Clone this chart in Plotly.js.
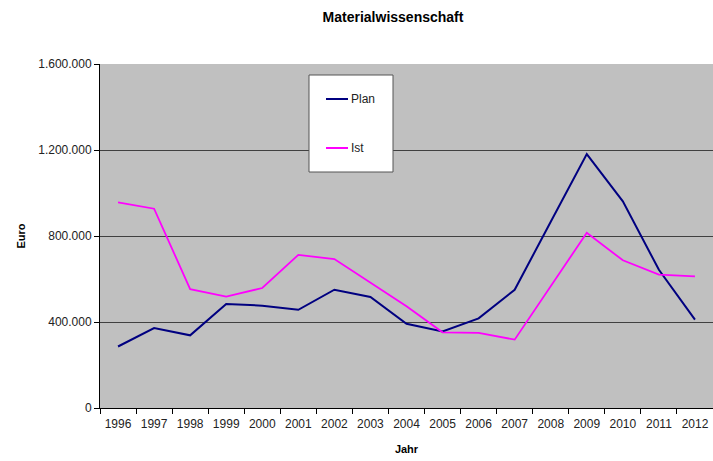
<!DOCTYPE html>
<html>
<head>
<meta charset="utf-8">
<script src="https://cdn.plot.ly/plotly-3.0.1.min.js"></script>
<style>html,body{margin:0;padding:0;background:#fff;}#chart{width:713px;height:461px;}</style>
</head>
<body>
<div id="chart"></div>
<script>
const years = ['1996','1997','1998','1999','2000','2001','2002','2003','2004','2005','2006','2007','2008','2009','2010','2011','2012'];
const planValues = [286000, 372000, 338000, 484000, 476000, 457000, 550000, 516000, 392000, 356000, 417000, 550000, 866000, 1181000, 961000, 643000, 411000];
const istValues = [956000, 927000, 553000, 518000, 558000, 712000, 693000, 581000, 473000, 352000, 349000, 318000, 567000, 815000, 687000, 620000, 612000];
const seriesNames = ['Plan', 'Ist'];
const seriesColors = ['#000080', '#ff00ff'];
const yTicks = [0, 400000, 800000, 1200000, 1600000];

const traces = [
  {x: years, y: planValues, name: seriesNames[0], type: 'scatter', mode: 'lines',
   line: {color: seriesColors[0], width: 2}, showlegend: false},
  {x: years, y: istValues, name: seriesNames[1], type: 'scatter', mode: 'lines',
   line: {color: seriesColors[1], width: 1.8}, showlegend: false}
];

const lx = v => (v - 100) / 613;
const ly = v => (408 - v) / 344;

const layout = {
  width: 713, height: 461,
  margin: {l: 100, r: 0, t: 64, b: 53},
  paper_bgcolor: '#ffffff',
  plot_bgcolor: '#c0c0c0',
  separators: ',.',
  font: {family: 'Arial, "Liberation Sans", sans-serif', size: 12, color: '#222'},
  title: {text: '<b>Materialwissenschaft</b>', font: {size: 14, color: '#000'},
          x: 393/713, xanchor: 'center', y: 1 - 17/461, yanchor: 'middle'},
  xaxis: {
    type: 'category', range: [-0.5, 16.5],
    tickson: 'boundaries', ticks: 'outside', ticklen: 5, tickcolor: '#000',
    ticklabelstandoff: 5,
    showline: true, linecolor: '#000', linewidth: 1, showgrid: false,
    tickfont: {size: 12}, fixedrange: true,
    title: {text: '<b>Jahr</b>', font: {size: 11, color: '#000'}, standoff: 14}
  },
  yaxis: {
    range: [0, 1600000], tickvals: yTicks, tickformat: ',d',
    ticks: 'outside', ticklen: 5, tickcolor: '#000',
    showline: true, linecolor: '#000', linewidth: 1,
    showgrid: true, gridcolor: '#404040', gridwidth: 1, zeroline: false,
    tickfont: {size: 12}, fixedrange: true,
    title: {text: '<b>Euro</b>', font: {size: 11, color: '#000'}, standoff: 10}
  },
  shapes: [
    {type: 'rect', xref: 'paper', yref: 'paper', x0: lx(309), x1: lx(393), y0: ly(172), y1: ly(75),
     fillcolor: '#ffffff', line: {color: '#555555', width: 1}, layer: 'above'},
    {type: 'line', xref: 'paper', yref: 'paper', x0: lx(326), x1: lx(348), y0: ly(99), y1: ly(99),
     line: {color: seriesColors[0], width: 2}, layer: 'above'},
    {type: 'line', xref: 'paper', yref: 'paper', x0: lx(326), x1: lx(348), y0: ly(148), y1: ly(148),
     line: {color: seriesColors[1], width: 2}, layer: 'above'}
  ],
  annotations: [
    {xref: 'paper', yref: 'paper', x: lx(349), y: ly(99), text: seriesNames[0], showarrow: false,
     xanchor: 'left', yanchor: 'middle', font: {size: 12, color: '#222'}},
    {xref: 'paper', yref: 'paper', x: lx(349), y: ly(148), text: seriesNames[1], showarrow: false,
     xanchor: 'left', yanchor: 'middle', font: {size: 12, color: '#222'}}
  ],
  showlegend: false
};

Plotly.newPlot('chart', traces, layout, {displayModeBar: false, staticPlot: true});
</script>
</body>
</html>
